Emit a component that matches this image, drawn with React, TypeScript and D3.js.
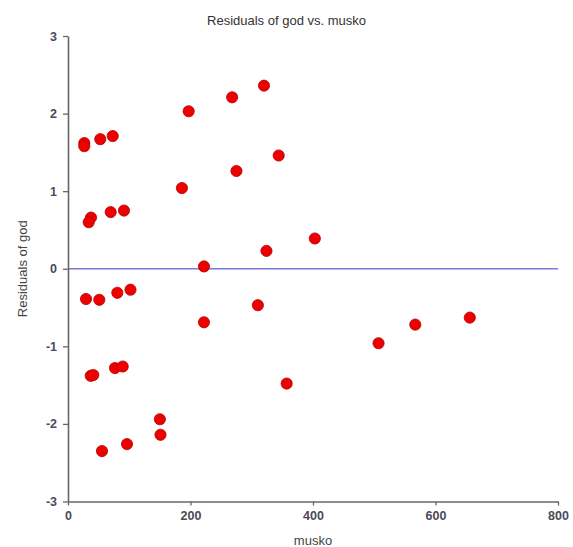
import { useEffect, useRef } from 'react';
import * as d3 from 'd3';

const W = 573;
const H = 547;

// residuals
const musko = [
  26.6, 26.6, 52.7, 73.0, 197, 268, 320, 344, 186, 275,
  37.6, 33.8, 69.7, 91.4, 403, 324, 222,
  29.4, 51.1, 80.5, 102, 310, 222, 507, 567, 656,
  37.1, 41.3, 76.7, 89.3, 357, 150, 151, 55.5, 96.3,
];
const residuals = [
  1.62, 1.58, 1.67, 1.71, 2.03, 2.21, 2.36, 1.46, 1.04, 1.26,
  0.66, 0.60, 0.73, 0.75, 0.39, 0.23, 0.03,
  -0.39, -0.40, -0.31, -0.27, -0.47, -0.69, -0.96, -0.72, -0.63,
  -1.38, -1.37, -1.28, -1.26, -1.48, -1.94, -2.14, -2.35, -2.26,
];
const xTicks = [0, 200, 400, 600, 800];
const yTicks = [-3, -2, -1, 0, 1, 2, 3];

const TITLE = 'Residuals of god vs. musko';
const X_LABEL = 'musko';
const Y_LABEL = 'Residuals of god';

export default function App() {
  const svgRef = useRef<SVGSVGElement | null>(null);

  useEffect(() => {
    document.body.style.margin = '0';
    const svg = d3.select(svgRef.current);
    svg.selectAll('*').remove();

    const m = { top: 36, right: 15, bottom: 45.5, left: 68 };
    const x = d3.scaleLinear().domain([0, 800]).range([m.left, W - m.right]);
    const y = d3.scaleLinear().domain([-3, 3]).range([H - m.bottom, m.top]);
    const font = 'Arial, "Liberation Sans", sans-serif';

    svg.append('rect').attr('width', W).attr('height', H).attr('fill', '#fff');

    // zero reference line
    svg.append('line')
      .attr('x1', x(0)).attr('x2', x(800))
      .attr('y1', y(0)).attr('y2', y(0))
      .attr('stroke', '#7a7ad8').attr('stroke-width', 1.6);

    const styleAxis = (g: d3.Selection<SVGGElement, unknown, null, undefined>) => {
      g.select('.domain').attr('stroke', '#666').attr('stroke-width', 1.6);
      g.selectAll('.tick line').attr('stroke', '#666').attr('stroke-width', 1.3);
      g.selectAll('.tick text')
        .attr('fill', '#4a4a5a').attr('font-size', 12.5)
        .attr('font-family', font).attr('font-weight', 600);
    };

    const fmt = (d: d3.NumberValue) => String(d);

    svg.append('g')
      .attr('transform', `translate(0,${y(-3)})`)
      .call(d3.axisBottom(x).tickValues(xTicks).tickFormat(fmt).tickSize(4).tickSizeOuter(0).tickPadding(6))
      .call(styleAxis);

    svg.append('g')
      .attr('transform', `translate(${x(0)},0)`)
      .call(d3.axisLeft(y).tickValues(yTicks).tickFormat(fmt).tickSize(5).tickSizeOuter(0).tickPadding(6))
      .call(styleAxis);

    // points
    svg.append('g')
      .selectAll('circle')
      .data(musko.map((v, i) => [v, residuals[i]]))
      .join('circle')
      .attr('cx', d => x(d[0]))
      .attr('cy', d => y(d[1]))
      .attr('r', 5.6)
      .attr('fill', '#ee0000')
      .attr('stroke', '#b40000')
      .attr('stroke-width', 0.8);

    svg.append('text')
      .attr('x', W / 2).attr('y', 25)
      .attr('text-anchor', 'middle')
      .attr('font-family', font).attr('font-size', 13)
      .attr('fill', '#333')
      .text(TITLE);

    svg.append('text')
      .attr('x', (m.left + W - m.right) / 2).attr('y', 545)
      .attr('text-anchor', 'middle')
      .attr('font-family', font).attr('font-size', 13)
      .attr('fill', '#444')
      .text(X_LABEL);

    svg.append('text')
      .attr('transform', `translate(27,${y(0)}) rotate(-90)`)
      .attr('text-anchor', 'middle')
      .attr('font-family', font).attr('font-size', 13)
      .attr('fill', '#444')
      .text(Y_LABEL);
  }, []);

  return (
    <svg
      ref={svgRef}
      width={W}
      height={H}
      style={{ position: 'fixed', left: 0, top: 0, display: 'block' }}
    />
  );
}
